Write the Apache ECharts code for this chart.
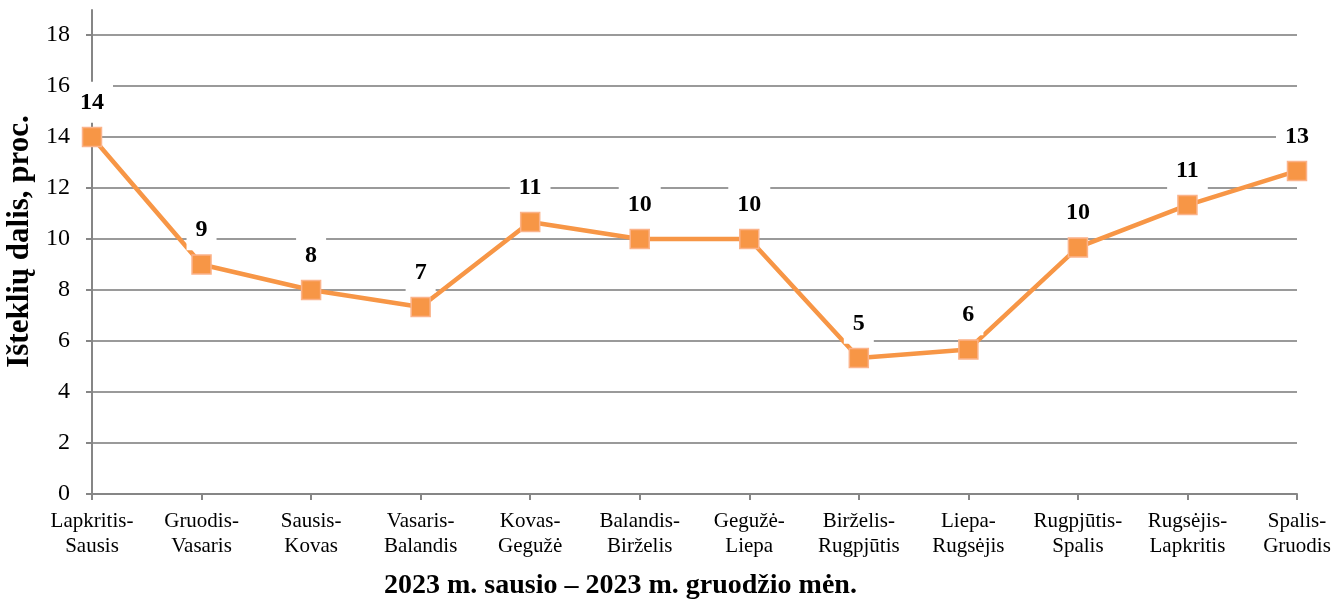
<!DOCTYPE html>
<html>
<head>
<meta charset="utf-8">
<script src="https://cdn.jsdelivr.net/npm/echarts@6/dist/echarts.min.js"></script>
<style>
  html, body { margin: 0; padding: 0; background: #fff; }
  #main { width: 1335px; height: 602px; }
</style>
</head>
<body>
<div id="main"></div>
<script>
// periodai (dviejų mėnesių poros)
var categories = [
  "Lapkritis-\nSausis", "Gruodis-\nVasaris", "Sausis-\nKovas", "Vasaris-\nBalandis",
  "Kovas-\nGegužė", "Balandis-\nBirželis", "Gegužė-\nLiepa", "Birželis-\nRugpjūtis",
  "Liepa-\nRugsėjis", "Rugpjūtis-\nSpalis", "Rugsėjis-\nLapkritis", "Spalis-\nGruodis"
];
// išteklių dalis, proc.
var shares = [14, 9, 8, 7.33, 10.67, 10, 10, 5.33, 5.67, 9.67, 11.33, 12.67];
var yMin = 0, yMax = 18, yStep = 2;

var serif = "'Liberation Serif', 'Times New Roman', serif";
var chart = echarts.init(document.getElementById("main"));

var option = {
  backgroundColor: "#fff",
  animation: false,
  title: {
    text: "2023 m. sausio – 2023 m. gruodžio mėn.",
    left: 384,
    top: 572,
    padding: 0,
    textStyle: { fontFamily: serif, fontSize: 28, fontWeight: "bold", color: "#000" }
  },
  grid: [
    { left: 92, right: 38, top: 35, bottom: 108, outerBoundsMode: "none" },
    // tik ašies linijos tęsinys virš 18
    { left: 92, right: 38, top: 10, bottom: 108, outerBoundsMode: "none" }
  ],
  xAxis: [
    {
      type: "category",
      data: categories,
      boundaryGap: false,
      axisLine: { lineStyle: { color: "#868686", width: 2 } },
      axisTick: { show: true, alignWithLabel: true, length: 6, lineStyle: { color: "#868686", width: 2 } },
      axisLabel: {
        interval: 0,
        margin: 15,
        color: "#000",
        fontFamily: serif,
        fontSize: 21,
        lineHeight: 25
      },
      splitLine: { show: false }
    },
    { type: "category", gridIndex: 1, data: categories, boundaryGap: false, show: false }
  ],
  yAxis: [
    {
      type: "value",
      min: yMin,
      max: yMax,
      interval: yStep,
      name: "Išteklių dalis, proc.",
      nameLocation: "middle",
      nameGap: 55,
      nameTextStyle: {
        fontFamily: serif, fontSize: 31, fontWeight: "bold", color: "#000",
        padding: [0, 0, 0, 46]
      },
      axisLine: { show: false },
      axisTick: { show: true, length: 6, lineStyle: { color: "#868686", width: 2 } },
      axisLabel: { color: "#000", fontFamily: serif, fontSize: 24, margin: 22 },
      splitLine: { show: true, lineStyle: { color: "#9a9a9a", width: 2 } }
    },
    {
      type: "value",
      gridIndex: 1,
      min: 0,
      max: 1,
      axisLine: { show: true, lineStyle: { color: "#868686", width: 2 } },
      axisTick: { show: false },
      axisLabel: { show: false },
      splitLine: { show: false }
    }
  ],
  series: [
    {
      type: "line",
      data: shares,
      z: 3,
      symbol: "rect",
      symbolSize: 19,
      lineStyle: { color: "#F79646", width: 4.5 },
      itemStyle: { color: "#F79646", borderColor: "#FBB38A", borderWidth: 1.5 },
      label: {
        show: true,
        position: "top",
        distance: 4,
        formatter: function (p) { return Math.round(p.value); },
        fontFamily: serif,
        fontSize: 24,
        fontWeight: "bold",
        color: "#000",
        backgroundColor: "#fff",
        padding: [9, 9, 8, 9]
      }
    }
  ]
};

chart.setOption(option);
</script>
</body>
</html>
